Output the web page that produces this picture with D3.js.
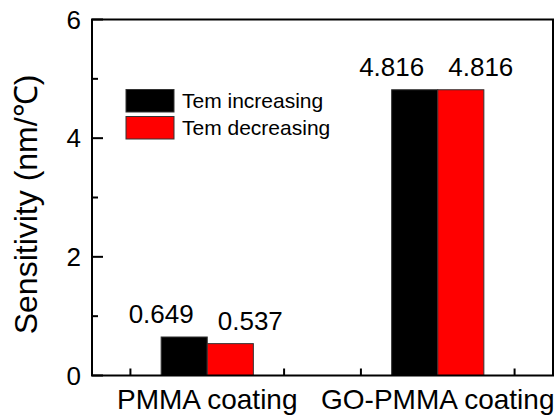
<!DOCTYPE html>
<html>
<head>
<meta charset="utf-8">
<script src="https://cdn.jsdelivr.net/npm/d3@7"></script>
<style>
  body { margin: 0; background: #fff; }
  text { font-family: Arial, 'Liberation Sans', sans-serif; fill: #000; }
</style>
</head>
<body>
<script>
const categories = ['PMMA coating', 'GO-PMMA coating']
const seriesNames = ['Tem increasing', 'Tem decreasing']
const increasing = [0.649, 4.816]
const decreasing = [0.537, 4.816]
const valueLabels = [['0.649', '0.537'], ['4.816', '4.816']]
const yTicks = [0, 2, 4, 6]
const yMinorTicks = [1, 3, 5]
const xMinorTicks = [2/3, 4/3, 5/3, 7/3]

const colors = ['#000000', '#ff0000']

let width = 554;
let height = 418;
let margin = {top: 19.5, right: 1, bottom: 42.5, left: 92}

const svg = d3.select('body').append('svg').attr('width', width).attr('height', height)

// x domain runs half a category past each end, like the original plot
const xScale = d3.scaleLinear()
  .domain([0.5, 2.5])
  .range([margin.left, width - margin.right])

const yScale = d3.scaleLinear()
  .domain([0, 6])
  .range([height - margin.bottom, margin.top])

const barWidth = xScale(1.2) - xScale(1)

// ticks inside the frame
svg.append('g')
  .selectAll('line')
  .data(yTicks)
  .enter()
  .append('line')
  .attr('x1', margin.left).attr('x2', margin.left + 11)
  .attr('y1', d => yScale(d)).attr('y2', d => yScale(d))
  .attr('stroke', '#000').attr('stroke-width', 2)

svg.append('g')
  .selectAll('line')
  .data(yMinorTicks)
  .enter()
  .append('line')
  .attr('x1', margin.left).attr('x2', margin.left + 6)
  .attr('y1', d => yScale(d)).attr('y2', d => yScale(d))
  .attr('stroke', '#000').attr('stroke-width', 2)

svg.append('g')
  .selectAll('line')
  .data(xMinorTicks)
  .enter()
  .append('line')
  .attr('x1', d => xScale(d)).attr('x2', d => xScale(d))
  .attr('y1', yScale(0)).attr('y2', yScale(0) - 7)
  .attr('stroke', '#000').attr('stroke-width', 2)

// bars
const bars = svg.append('g')
bars.selectAll('.inc')
  .data(increasing)
  .enter()
  .append('rect')
  .attr('class', 'inc')
  .attr('x', (d, i) => xScale(i + 1) - barWidth)
  .attr('y', d => yScale(d))
  .attr('width', barWidth)
  .attr('height', d => yScale(0) - yScale(d))
  .attr('fill', colors[0])
  .attr('stroke', '#333').attr('stroke-width', 1)

bars.selectAll('.dec')
  .data(decreasing)
  .enter()
  .append('rect')
  .attr('class', 'dec')
  .attr('x', (d, i) => xScale(i + 1))
  .attr('y', d => yScale(d))
  .attr('width', barWidth)
  .attr('height', d => yScale(0) - yScale(d))
  .attr('fill', colors[1])
  .attr('stroke', '#333').attr('stroke-width', 1)

// value labels over the bars
categories.forEach((c, i) => {
  let vals = [increasing[i], decreasing[i]]
  vals.forEach((v, j) => {
    let cx = xScale(i + 1) + (j === 0 ? -barWidth / 2 - 23 : barWidth / 2 + 20)
    svg.append('text')
      .attr('x', cx)
      .attr('y', yScale(v) - 14)
      .attr('text-anchor', 'middle')
      .style('font-size', '26px')
      .text(valueLabels[i][j])
  })
})

// frame
svg.append('rect')
  .attr('x', margin.left).attr('y', margin.top)
  .attr('width', width - margin.right - margin.left)
  .attr('height', height - margin.bottom - margin.top)
  .attr('fill', 'none')
  .attr('stroke', '#000').attr('stroke-width', 2)

// tick labels
svg.append('g')
  .selectAll('text')
  .data(yTicks)
  .enter()
  .append('text')
  .attr('x', margin.left - 11)
  .attr('y', d => yScale(d) + 9)
  .attr('text-anchor', 'end')
  .style('font-size', '26px')
  .text(d => d)

svg.append('g')
  .selectAll('text')
  .data(categories)
  .enter()
  .append('text')
  .attr('x', (d, i) => xScale(i + 1))
  .attr('y', yScale(0) + 33)
  .attr('text-anchor', 'middle')
  .style('font-size', '28px')
  .text(d => d)

// y title
svg.append('text')
  .attr('transform', `translate(37,${(yScale(0) + yScale(6)) / 2 + 7}) rotate(-90)`)
  .attr('text-anchor', 'middle')
  .style('font-size', '32px')
  .text('Sensitivity (nm/℃)')

// legend
const legend = svg.append('g')
seriesNames.forEach((name, i) => {
  legend.append('rect')
    .attr('x', 126).attr('y', 89.5 + i * 27)
    .attr('width', 48).attr('height', 22.5)
    .attr('fill', colors[i])
    .attr('stroke', '#333').attr('stroke-width', 1)
  legend.append('text')
    .attr('x', 182).attr('y', 108 + i * 27)
    .style('font-size', '21px')
    .text(name)
})
</script>
</body>
</html>
